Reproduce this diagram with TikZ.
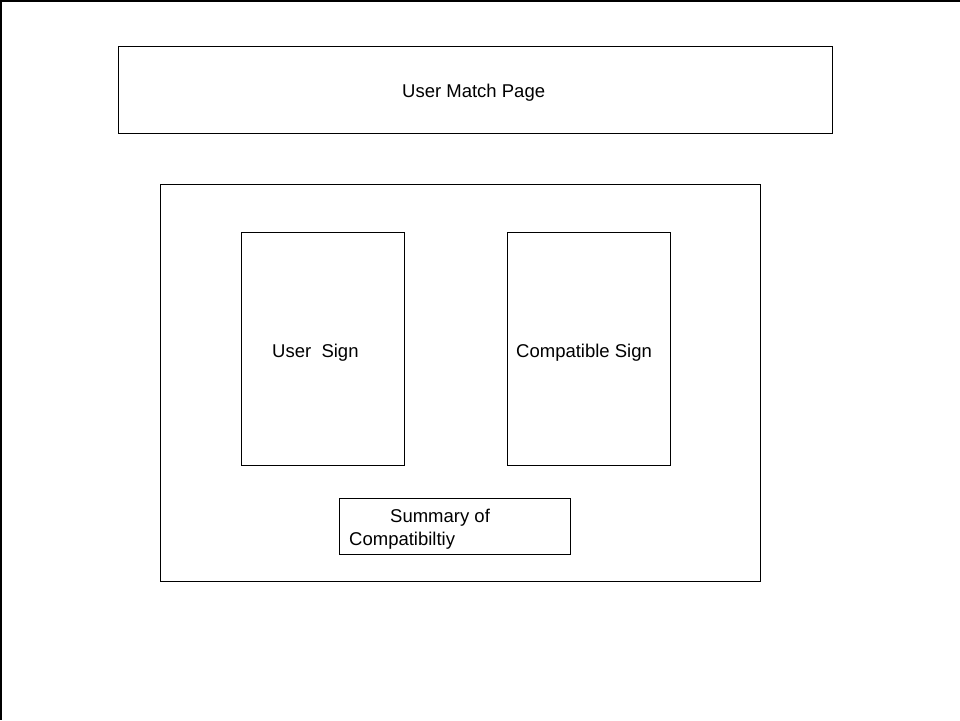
\documentclass[tikz,border=0pt]{standalone}
\usepackage{fontspec}
\setmainfont{Liberation Sans}
\begin{document}
\begin{tikzpicture}[x=1pt,y=-1pt,
  box/.style={draw=black,line width=1pt,fill=none,inner sep=0pt},
  lbl/.style={anchor=base west,inner sep=0pt,font=\fontsize{18.5}{22}\selectfont}]
\useasboundingbox (0,0) rectangle (960,720);
\fill[white] (0,0) rectangle (960,720);
\coordinate (tl) at (0,0);
\coordinate (tr) at (960,0);
\coordinate (bl) at (0,720);
\draw[line width=2pt] ([yshift=-1pt]tr) -- ([yshift=-1pt]tl);
\draw[line width=2pt] ([xshift=1pt]tl) -- ([xshift=1pt]bl);
\node[box,minimum width=714pt,minimum height=87pt] (page) at (475,89.5) {};
\node[box,minimum width=600pt,minimum height=397pt] (outer) at (460,382.5) {};
\node[box,minimum width=163pt,minimum height=233pt] (user) at (322.5,348.5) {};
\node[box,minimum width=163pt,minimum height=233pt] (compat) at (588.5,348.5) {};
\node[box,minimum width=231pt,minimum height=56pt] (summary) at (454.5,526) {};
\node[lbl] (tpage) at (402,97) {User Match Page};
\node[lbl] (tuser) at (272,357) {User\ \ Sign};
\node[lbl] (tcompat) at (516,357) {Compatible Sign};
\node[lbl] (tsum1) at (390,522) {Summary of};
\node[lbl] (tsum2) at (349,545) {Compatibiltiy};
\end{tikzpicture}
\end{document}
